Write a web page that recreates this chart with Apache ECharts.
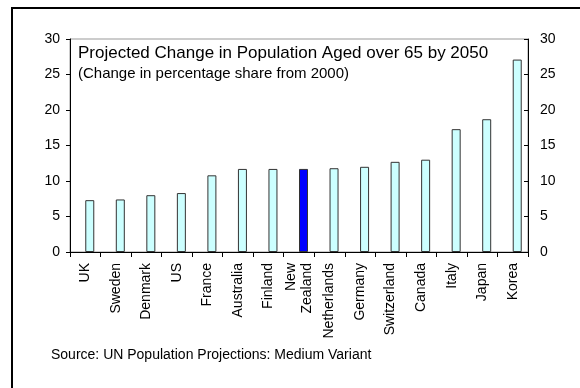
<!DOCTYPE html>
<html>
<head>
<meta charset="utf-8">
<script src="https://cdn.jsdelivr.net/npm/echarts@6/dist/echarts.min.js"></script>
<style>
  html, body { margin: 0; padding: 0; background: #fff; }
  #chart { width: 580px; height: 388px; }
</style>
</head>
<body>
<div id="chart"></div>
<script>
var countries = ['UK', 'Sweden', 'Denmark', 'US', 'France', 'Australia', 'Finland', 'New\nZealand',
  'Netherlands', 'Germany', 'Switzerland', 'Canada', 'Italy', 'Japan', 'Korea'];
var change = [7.3, 7.4, 8.0, 8.3, 10.8, 11.7, 11.7, 11.7, 11.8, 12.0, 12.7, 13.0, 17.3, 18.7, 27.1];
var highlight = 'New\nZealand';

var font = 'Arial, "Liberation Sans", sans-serif';

var barData = countries.map(function (c, i) {
  if (c === highlight) {
    return { value: change[i], itemStyle: { color: '#0000ff' } };
  }
  return change[i];
});

var myChart = echarts.init(document.getElementById('chart'));

var option = {
  backgroundColor: '#fff',
  animation: false,
  grid: {
    left: 70, right: 52, top: 39, bottom: 136,
    show: true, borderColor: '#999', borderWidth: 1, backgroundColor: 'transparent'
  },
  xAxis: {
    type: 'category',
    data: countries,
    axisLine: { lineStyle: { color: '#000', width: 1 } },
    axisTick: { show: true, length: 5, lineStyle: { color: '#000' } },
    axisLabel: {
      rotate: 90, margin: 11, color: '#000', fontSize: 14, fontFamily: font,
      interval: 0, lineHeight: 16
    }
  },
  yAxis: [{
    type: 'value', min: 0, max: 30, interval: 5, position: 'left',
    splitLine: { show: false },
    axisLine: { show: true, lineStyle: { color: '#000' } },
    axisTick: { show: true, length: 4, lineStyle: { color: '#000' } },
    axisLabel: { color: '#000', fontSize: 14, fontFamily: font, margin: 10 }
  }, {
    type: 'value', min: 0, max: 30, interval: 5, position: 'right',
    splitLine: { show: false },
    axisLine: { show: true, lineStyle: { color: '#000' } },
    axisTick: { show: true, inside: true, length: 4, lineStyle: { color: '#000' } },
    axisLabel: { color: '#000', fontSize: 14, fontFamily: font, margin: 12 }
  }],
  series: [{
    // empty spacer so the bars sit right of the category centre, as in the original
    type: 'bar',
    data: [],
    barWidth: 1
  }, {
    type: 'bar',
    data: barData,
    barWidth: 9,
    barGap: '800%',
    itemStyle: { color: '#ccffff', borderColor: '#333', borderWidth: 1 }
  }],
  graphic: [
    { type: 'rect', shape: { x: 11, y: 7, width: 2, height: 381 }, style: { fill: '#000' } },
    { type: 'rect', shape: { x: 11, y: 7, width: 569, height: 2 }, style: { fill: '#000' } },
    {
      type: 'text', left: 78, top: 45,
      style: { text: 'Projected Change in Population Aged over 65 by 2050', fill: '#000', font: '17px ' + font }
    },
    {
      type: 'text', left: 78, top: 66,
      style: { text: '(Change in percentage share from 2000)', fill: '#000', font: '15px ' + font }
    },
    {
      type: 'text', left: 51, top: 348,
      style: { text: 'Source: UN Population Projections: Medium Variant', fill: '#000', font: '14px ' + font }
    }
  ]
};

myChart.setOption(option);
</script>
</body>
</html>
